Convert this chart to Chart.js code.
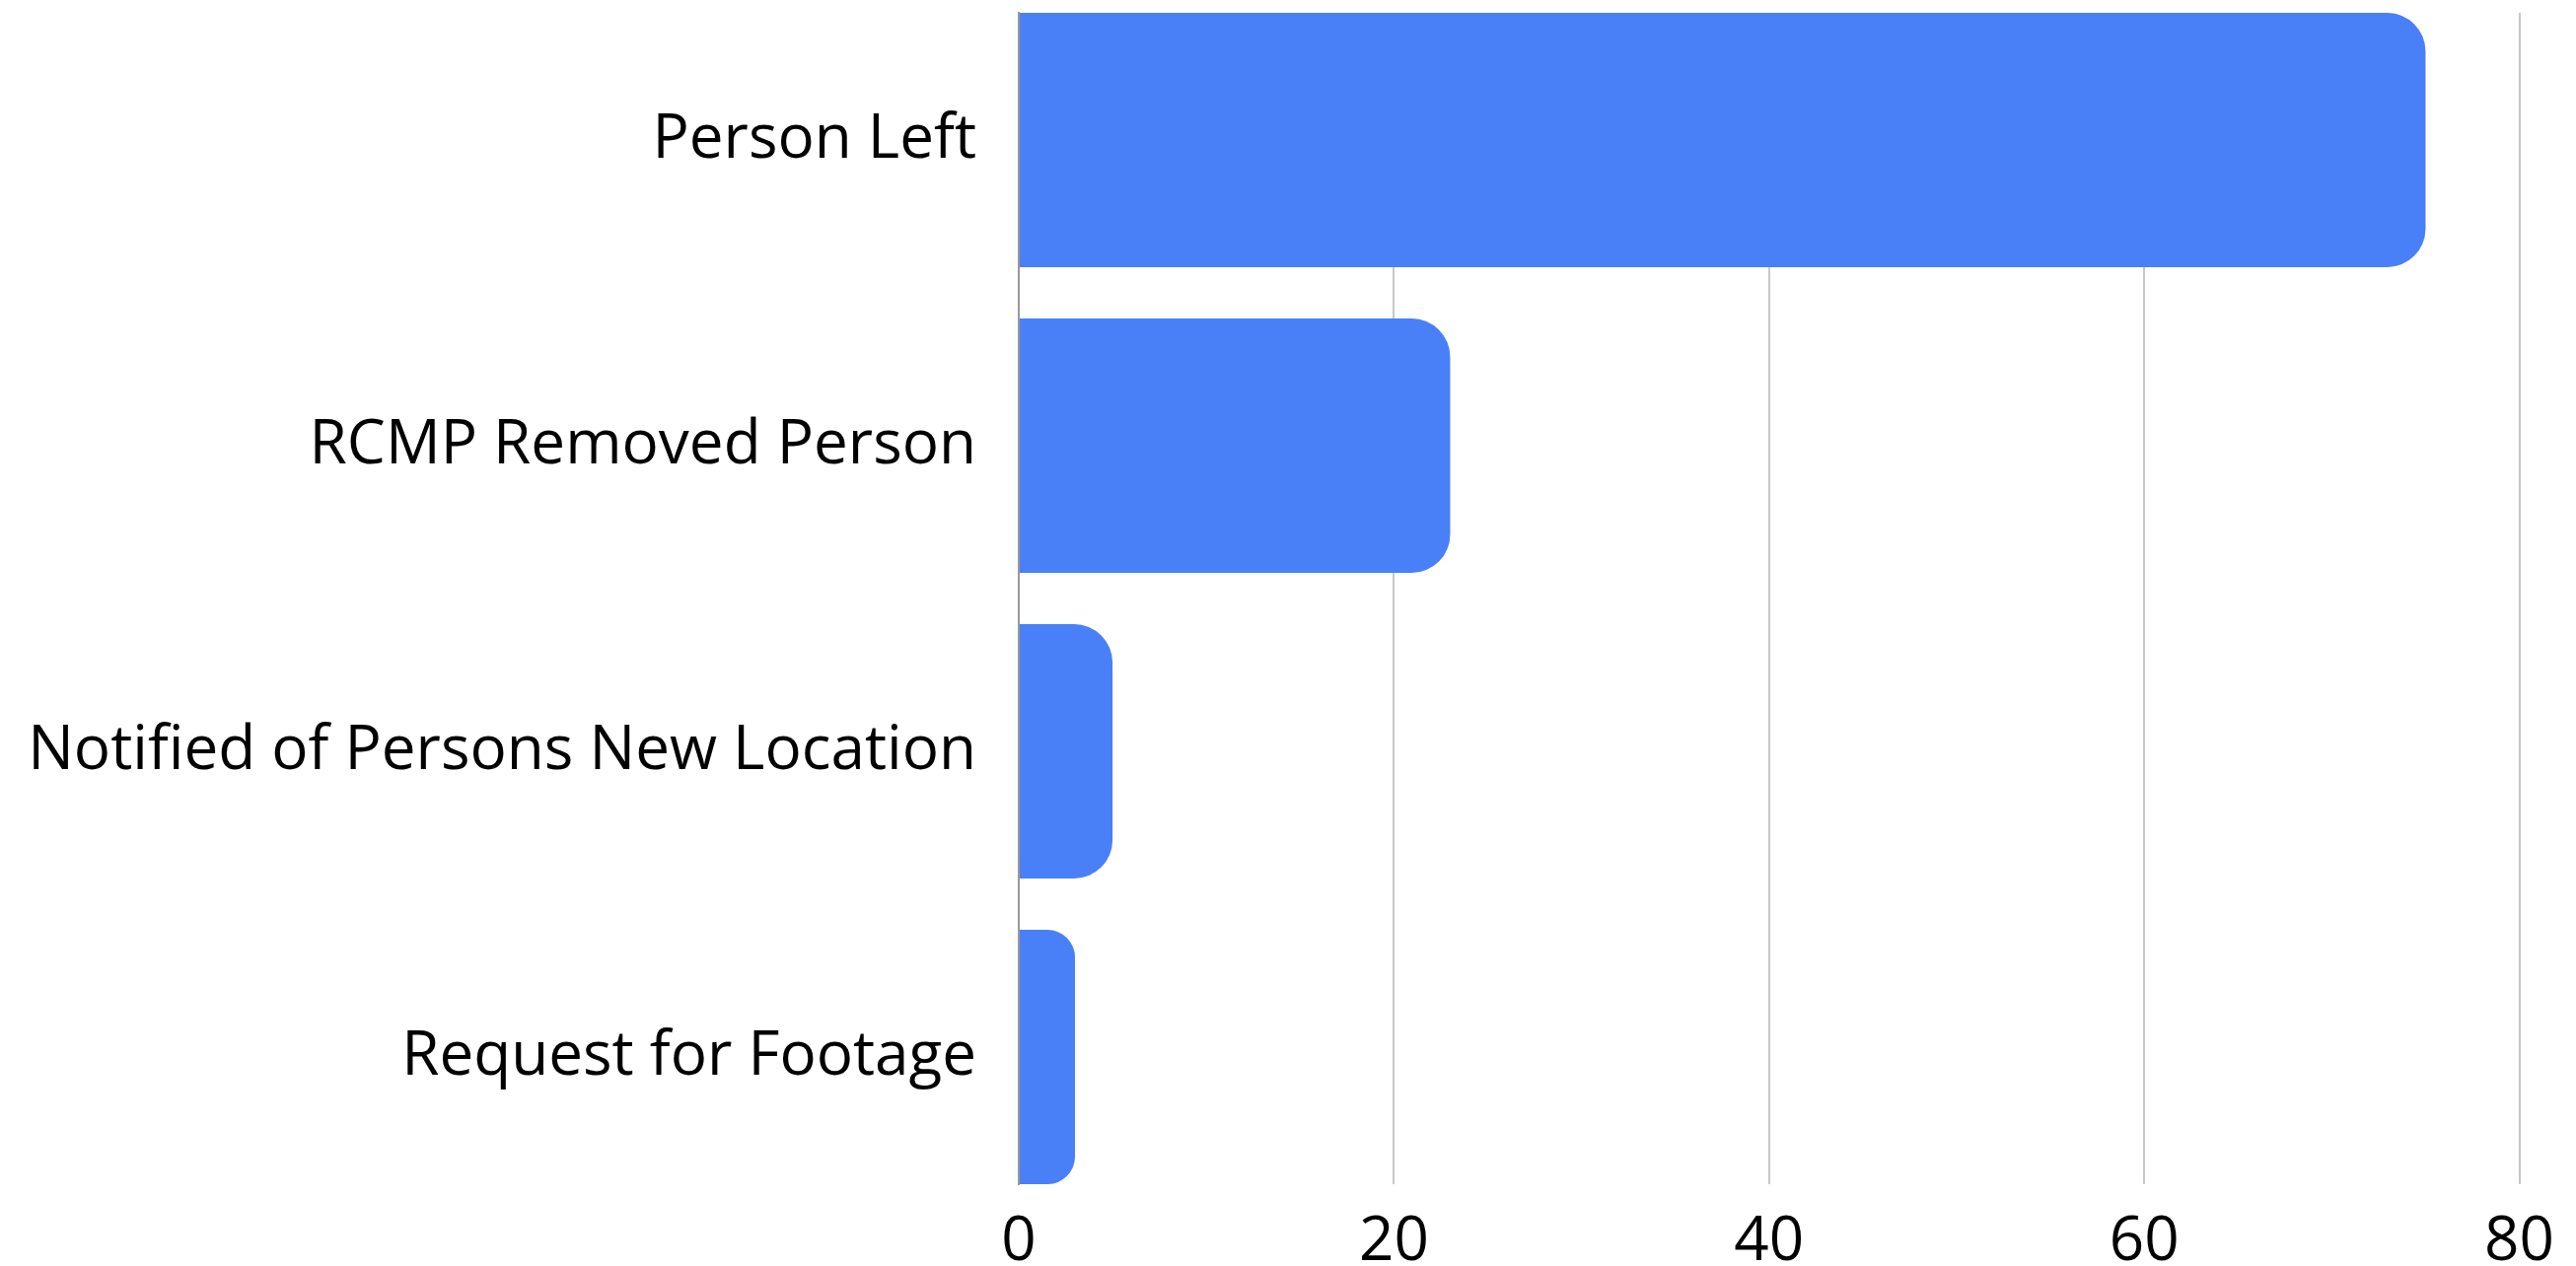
<!DOCTYPE html>
<html>
<head>
<meta charset="utf-8">
<script src="https://cdn.jsdelivr.net/npm/chart.js@4"></script>
<style>
  html, body { margin: 0; padding: 0; background: #ffffff; }
  #wrap { width: 2612px; height: 1284px; position: relative; }
</style>
</head>
<body>
<div id="wrap"><canvas id="c" width="2612" height="1284"></canvas></div>
<script>
const categories = ["Person Left", "RCMP Removed Person", "Notified of Persons New Location", "Request for Footage"];
const values = [75, 23, 5, 3];
const xTicks = [0, 20, 40, 60, 80];

const FONT = "'Open Sans', sans-serif";

new Chart(document.getElementById('c'), {
  type: 'bar',
  data: {
    datasets: [{
      data: values.map((v, i) => ({ x: v, y: i })),
      backgroundColor: '#4A80F7',
      borderWidth: 0,
      borderRadius: 39,
      borderSkipped: 'start',
      categoryPercentage: 1.0,
      barPercentage: 0.8323
    }]
  },
  options: {
    indexAxis: 'y',
    responsive: false,
    animation: false,
    layout: { padding: { top: 13, right: 17, left: 0, bottom: 0 } },
    plugins: { legend: { display: false }, tooltip: { enabled: false } },
    scales: {
      x: {
        type: 'linear',
        min: 0, max: 80,
        afterBuildTicks: (s) => { s.ticks = xTicks.map(v => ({ value: v })); },
        grid: { color: '#c8c8c8', lineWidth: 2, drawTicks: false },
        border: { display: false },
        ticks: { color: '#000000', font: { family: FONT, size: 62 }, padding: 22 },
        afterFit: (s) => { s.height = 83; }
      },
      y: {
        type: 'linear',
        reverse: true,
        offset: false,
        min: -0.4161, max: 3.4161,
        afterBuildTicks: (s) => { s.ticks = categories.map((_, i) => ({ value: i })); },
        grid: { display: false, drawTicks: false, offset: false },
        border: { display: true, color: '#999999', width: 2 },
        ticks: { color: '#000000', font: { family: FONT, size: 62 }, padding: 43,
                 callback: (v) => categories[v] },
        afterFit: (s) => { s.width = 1033; s.paddingTop = 0; s.paddingBottom = 0; }
      }
    }
  }
});
</script>
</body>
</html>
